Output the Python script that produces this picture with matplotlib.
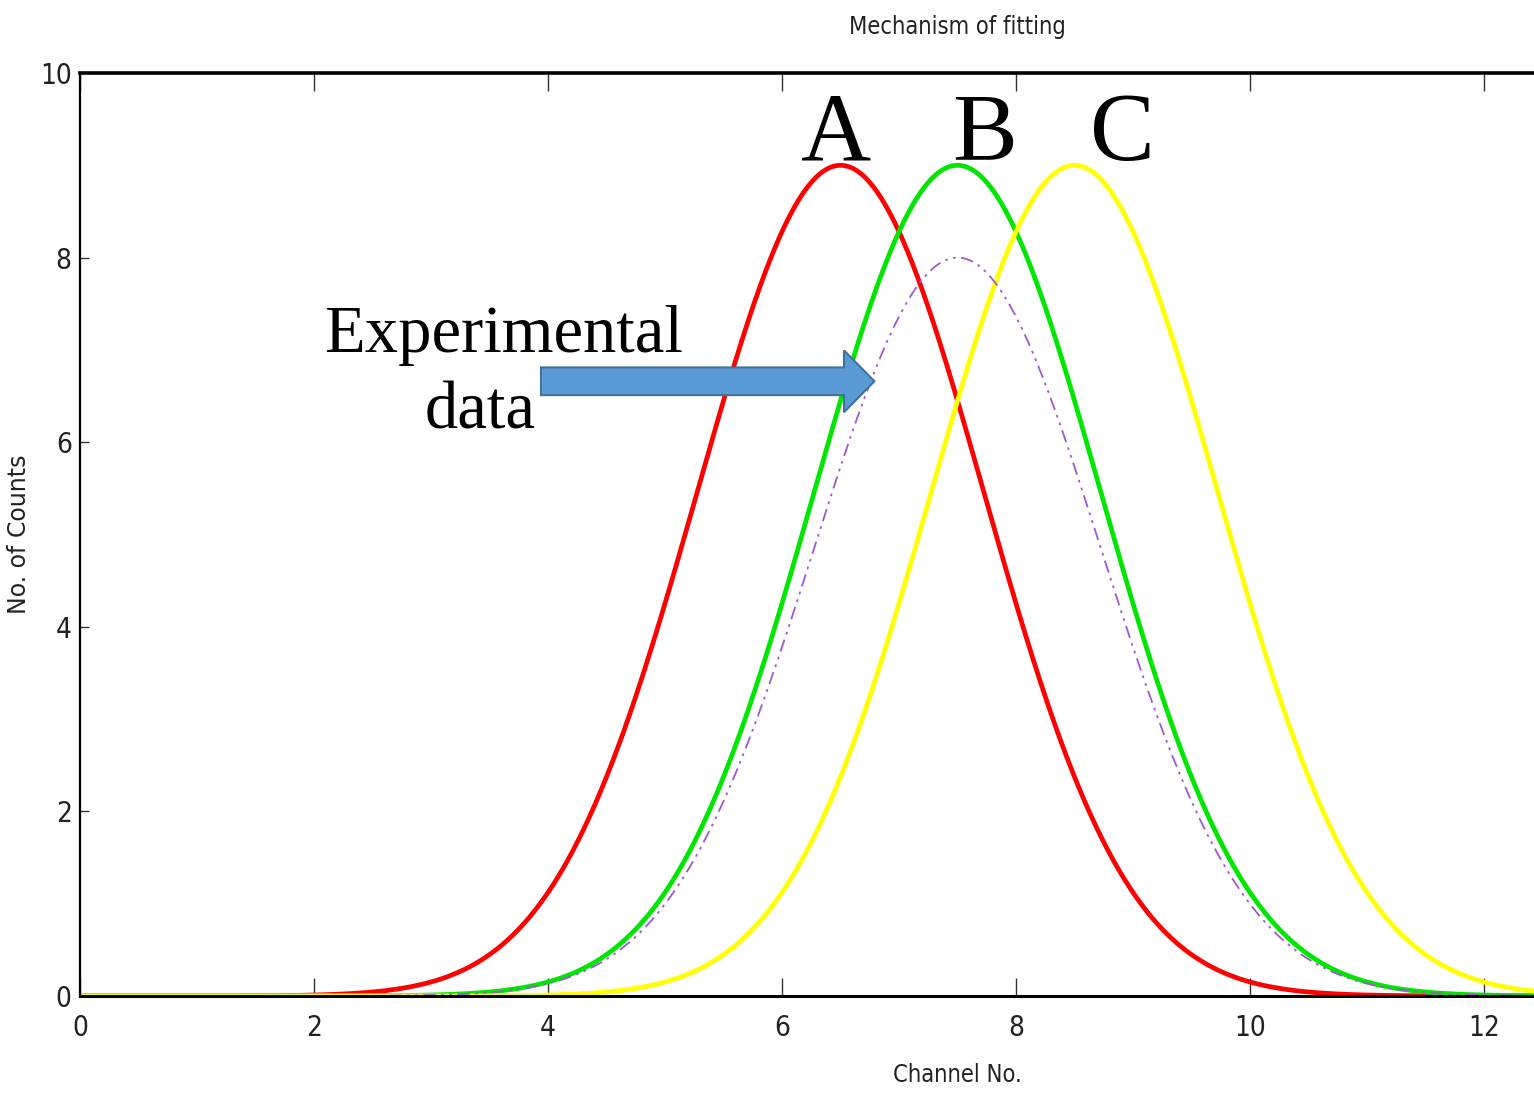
import numpy as np
import matplotlib.pyplot as plt
from matplotlib.patches import FancyArrow

# fitted peaks: A, B, C and the measured spectrum
peak_names = ["A", "B", "C"]
peak_centres = [6.5, 7.5, 8.5]
peak_heights = [9.0, 9.0, 9.0]
peak_colours = ["#ff0000", "#00e600", "#ffff00"]
peak_width = 1.225

exp_centre = 7.5
exp_height = 8.0

x = np.linspace(0, 15, 1500)


def gauss(x, mu, h, s):
    return h * np.exp(-(x - mu) ** 2 / (2 * s ** 2))


narrow = dict(family=["Liberation Sans Narrow", "DejaVu Sans"], stretch="condensed")

fig = plt.figure(figsize=(15.34, 10.99), dpi=100)
ax = fig.add_axes([80 / 1534, 103 / 1099, 1755 / 1534, 923 / 1099])

for mu, h, c in zip(peak_centres, peak_heights, peak_colours):
    ax.plot(x, gauss(x, mu, h, peak_width), color=c, lw=3.4, zorder=2)

ax.plot(x, gauss(x, exp_centre, exp_height, peak_width), color="#9b59d0",
        lw=1.3, dashes=(7, 3, 1.5, 3, 1.5, 3), zorder=2)

ax.set_xlim(0, 15)
ax.set_ylim(0, 10)
ax.set_xticks(np.arange(0, 13, 2))
ax.set_yticks(np.arange(0, 11, 2))
ax.tick_params(axis="x", direction="in", length=13, width=1, color="#333333",
               top=True, pad=13)
ax.tick_params(axis="y", direction="in", length=6.5, width=1, color="#333333",
               pad=6)
for lab in ax.get_xticklabels() + ax.get_yticklabels():
    lab.set_family(narrow["family"])
    lab.set_stretch(narrow["stretch"])
    lab.set_fontsize(20)
    lab.set_color("#222222")

ax.spines["top"].set_linewidth(2.6)
ax.spines["bottom"].set_linewidth(2.2)
ax.spines["left"].set_linewidth(1.6)
ax.spines["right"].set_visible(False)

ax.set_title("Mechanism of fitting", fontsize=17, color="#222222", pad=28,
             **narrow)
ax.set_xlabel("Channel No.", fontsize=17, color="#222222", labelpad=15,
              **narrow)
ax.set_ylabel("No. of Counts", fontsize=17, color="#222222")
ax.yaxis.set_label_coords(-0.028, 0.5)

# peak letters
for name, xp in zip(peak_names, [6.46, 7.73, 8.91]):
    ax.text(xp, 9.06, name, family="Liberation Serif", fontsize=70,
            ha="center", va="baseline")

ax.text(3.62, 6.98, "Experimental", family="Liberation Serif", fontsize=48,
        ha="center", va="baseline")
ax.text(3.42, 6.15, "data", family="Liberation Serif", fontsize=48,
        ha="center", va="baseline")

arrow = FancyArrow(3.94, 6.66, 2.85, 0, width=0.30, head_width=0.67,
                   head_length=0.26, length_includes_head=True,
                   facecolor="#5b9bd5", edgecolor="#41719c", lw=1.5, zorder=5)
ax.add_patch(arrow)

fig.savefig("out.png", dpi=100)
